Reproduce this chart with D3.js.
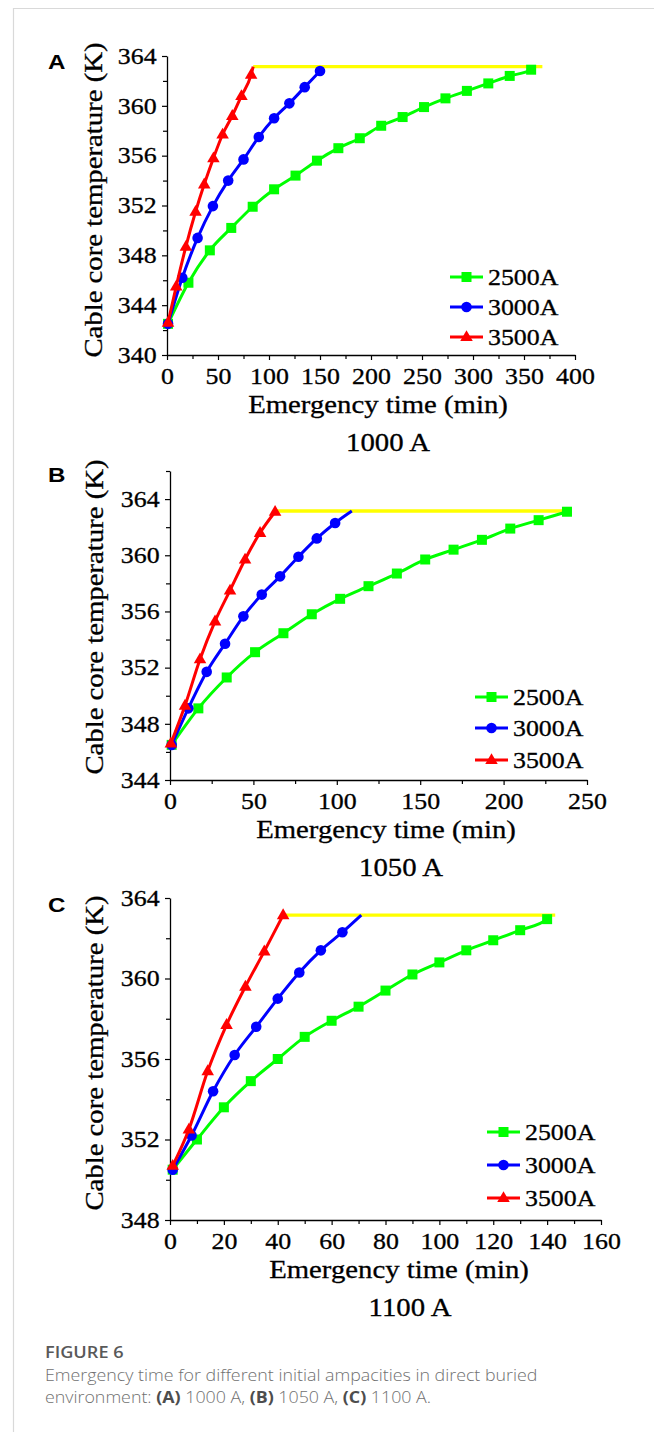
<!DOCTYPE html>
<html>
<head>
<meta charset="utf-8">
<script src="https://cdn.jsdelivr.net/npm/d3@7"></script>
<style>
  html, body { margin: 0; padding: 0; background: #fff; }
  svg { display: block; }
</style>
</head>
<body>
<script>
// ---------- data ----------
const seriesNames = ["2500A", "3000A", "3500A"];
const limitTemp = 363.15;

// Panel A : 1000 A
const tA_2500 = [1, 21, 42, 63, 84, 105, 126, 147, 168, 189, 210, 231, 252, 273, 294, 315, 336, 357];
const TA_2500 = [342.5, 345.8, 348.4, 350.2, 351.9, 353.3, 354.4, 355.6, 356.6, 357.4, 358.4, 359.1, 359.9, 360.6, 361.2, 361.8, 362.4, 362.9];
const tA_3000 = [1, 15, 30, 45, 60, 75, 90, 105, 120, 135, 150];
const TA_3000 = [342.5, 346.2, 349.4, 351.95, 354.0, 355.7, 357.5, 359.0, 360.2, 361.5, 362.8];
const tA_3500 = [1, 9, 18.5, 28, 36.5, 45.5, 54.5, 64, 73, 82.5];
const TA_3500 = [342.6, 345.5, 348.7, 351.5, 353.7, 355.8, 357.7, 359.2, 360.8, 362.5];
const endA = [359, 150, 84.5];          // time each curve reaches the limit
const yellowA = [84.5, 368];

// Panel B : 1050 A
const tB_2500 = [1, 17, 34, 51, 68, 85, 102, 119, 136, 153, 170, 187, 204, 221, 238];
const TB_2500 = [346.5, 349.1, 351.3, 353.1, 354.45, 355.8, 356.9, 357.8, 358.7, 359.7, 360.4, 361.1, 361.9, 362.5, 363.1];
const tB_3000 = [1, 11, 22, 33, 44, 55, 66, 77, 88, 99];
const TB_3000 = [346.5, 349.1, 351.7, 353.7, 355.65, 357.2, 358.5, 359.9, 361.2, 362.3];
const tB_3500 = [0.5, 9, 18, 27, 36, 45, 54, 63];
const TB_3500 = [346.6, 349.3, 352.6, 355.3, 357.5, 359.7, 361.6, 363.1];
const endB = [238, 109, 63];
const yellowB = [63, 240];

// Panel C : 1100 A
const tC_2500 = [1, 10, 20, 30, 40, 50, 60, 70, 80, 90, 100, 110, 120, 130, 140];
const TC_2500 = [350.5, 352.0, 353.6, 354.9, 356.0, 357.1, 357.9, 358.6, 359.4, 360.2, 360.8, 361.4, 361.9, 362.4, 362.95];
const tC_3000 = [1, 8, 16, 24, 32, 40, 48, 56, 64];
const TC_3000 = [350.5, 352.2, 354.4, 356.2, 357.6, 359.0, 360.3, 361.4, 362.3];
const tC_3500 = [1, 7, 14, 21, 28, 35, 42];
const TC_3500 = [350.7, 352.5, 355.4, 357.7, 359.6, 361.35, 363.15];
const endC = [141, 71, 42];
const yellowC = [42, 143];

// tick labels
const xTicksA = [0, 50, 100, 150, 200, 250, 300, 350, 400];
const yTicksA = [340, 344, 348, 352, 356, 360, 364];
const xTicksB = [0, 50, 100, 150, 200, 250];
const yTicksB = [344, 348, 352, 356, 360, 364];
const xTicksC = [0, 20, 40, 60, 80, 100, 120, 140, 160];
const yTicksC = [348, 352, 356, 360, 364];

const captionTitle = "FIGURE 6";
const captionLine1 = "Emergency time for different initial ampacities in direct buried";

// ---------- drawing ----------
const W = 654, H = 1432;
const colors = ["#00ff00", "#0000ff", "#ff0000"];
const yellow = "#ffff00";
const serif = "'Liberation Serif', 'Times New Roman', serif";
const SX = 1.15;   // horizontal stretch of the original figure's lettering

const svg = d3.select("body").append("svg").attr("width", W).attr("height", H);

// frame
svg.append("line").attr("x1", 13).attr("x2", W).attr("y1", 8.5).attr("y2", 8.5)
  .attr("stroke", "#d9d9d9").attr("stroke-width", 1.2);
svg.append("line").attr("x1", 13.5).attr("x2", 13.5).attr("y1", 8).attr("y2", H)
  .attr("stroke", "#d9d9d9").attr("stroke-width", 1.2);

function stretchedText(parent, x, y, txt, size, anchor, rot) {
  return parent.append("text")
    .attr("transform", `translate(${x},${y})` + (rot ? ` rotate(${rot})` : "") + ` scale(${SX},1)`)
    .attr("text-anchor", anchor || "start")
    .attr("font-family", serif).attr("font-size", size).attr("fill", "#000")
    .attr("stroke", "#000").attr("stroke-width", 0.3)
    .text(txt);
}

const panels = [
  { letter: "A", sub: "1000 A", x0: 167, x1: 575, yTop: 56, yBot: 355,
    xDom: [0, 400], yDom: [340, 364], xTicks: xTicksA, yTicks: yTicksA, xMinor: 25, yMinor: 2,
    t: [tA_2500, tA_3000, tA_3500], T: [TA_2500, TA_3000, TA_3500], end: endA, yellow: yellowA,
    letterPos: [48, 69], titleX: 378, subX: 388, yTitleY: 200, yTitleX: 102,
    legX: 450, legY: [277, 307, 337] },
  { letter: "B", sub: "1050 A", x0: 170, x1: 587, yTop: 471, yBot: 780,
    xDom: [0, 250], yDom: [344, 366], xTicks: xTicksB, yTicks: yTicksB, xMinor: 25, yMinor: 2,
    t: [tB_2500, tB_3000, tB_3500], T: [TB_2500, TB_3000, TB_3500], end: endB, yellow: yellowB,
    letterPos: [48, 482], titleX: 386, subX: 401, yTitleY: 617, yTitleX: 103,
    legX: 475, legY: [697, 728, 760] },
  { letter: "C", sub: "1100 A", x0: 170, x1: 601, yTop: 898, yBot: 1220,
    xDom: [0, 160], yDom: [348, 364], xTicks: xTicksC, yTicks: yTicksC, xMinor: 10, yMinor: 2,
    t: [tC_2500, tC_3000, tC_3500], T: [TC_2500, TC_3000, TC_3500], end: endC, yellow: yellowC,
    letterPos: [48, 912], titleX: 399, subX: 410, yTitleY: 1053, yTitleX: 103,
    legX: 487, legY: [1132, 1165, 1198] }
];

function marker(g, type, x, y, color) {
  if (type === 0) {
    g.append("rect").attr("x", x - 5).attr("y", y - 5).attr("width", 10).attr("height", 10).attr("fill", color);
  } else if (type === 1) {
    g.append("circle").attr("cx", x).attr("cy", y).attr("r", 5.3).attr("fill", color);
  } else {
    g.append("path").attr("d", d3.symbol().type(d3.symbolTriangle).size(68)())
      .attr("transform", `translate(${x},${y + 0.5})`).attr("fill", color);
  }
}

panels.forEach(p => {
  const g = svg.append("g");
  const x = d3.scaleLinear().domain(p.xDom).range([p.x0, p.x1]);
  const y = d3.scaleLinear().domain(p.yDom).range([p.yBot, p.yTop]);

  const xMinorVals = d3.range(p.xDom[0], p.xDom[1] + 1e-9, p.xMinor).filter(v => !p.xTicks.includes(v));
  const yMinorVals = d3.range(p.yDom[0], p.yDom[1] + 1e-9, p.yMinor).filter(v => !p.yTicks.includes(v));

  g.append("g").attr("transform", `translate(0,${p.yBot})`)
    .call(d3.axisBottom(x).tickValues(p.xTicks).tickSize(5).tickPadding(8).tickSizeOuter(0));
  g.append("g").attr("transform", `translate(0,${p.yBot})`)
    .call(d3.axisBottom(x).tickValues(xMinorVals).tickSize(4).tickFormat("").tickSizeOuter(0))
    .select(".domain").remove();
  g.append("g").attr("transform", `translate(${p.x0},0)`)
    .call(d3.axisLeft(y).tickValues(p.yTicks).tickSize(5).tickPadding(4).tickSizeOuter(0));
  g.append("g").attr("transform", `translate(${p.x0},0)`)
    .call(d3.axisLeft(y).tickValues(yMinorVals).tickSize(4).tickFormat("").tickSizeOuter(0))
    .select(".domain").remove();

  g.selectAll(".domain").attr("stroke", "#000").attr("stroke-width", 1.3);
  g.selectAll(".tick line").attr("stroke", "#000").attr("stroke-width", 1.2);
  g.selectAll(".tick text").attr("font-family", serif).attr("font-size", 22.5).attr("fill", "#000")
    .attr("stroke", "#000").attr("stroke-width", 0.3)
    .attr("transform", `scale(${SX},1)`);

  // yellow limit line
  g.append("line").attr("x1", x(p.yellow[0])).attr("x2", x(p.yellow[1]))
    .attr("y1", y(limitTemp)).attr("y2", y(limitTemp))
    .attr("stroke", yellow).attr("stroke-width", 3.4);

  // series
  const line = d3.line().x(d => x(d[0])).y(d => y(d[1])).curve(d3.curveMonotoneX);
  [0, 1, 2].forEach(i => {
    const pts = p.t[i].map((t, k) => [t, p.T[i][k]]);
    const linePts = pts.slice();
    if (p.end[i] > pts[pts.length - 1][0]) linePts.push([p.end[i], limitTemp]);
    g.append("path").datum(linePts).attr("d", line)
      .attr("fill", "none").attr("stroke", colors[i]).attr("stroke-width", 3)
      .attr("stroke-linejoin", "round");
    pts.forEach(d => marker(g, i, x(d[0]), y(d[1]), colors[i]));
  });

  // titles
  stretchedText(g, p.titleX, p.yBot + 58, "Emergency time (min)", 25, "middle");
  stretchedText(g, p.yTitleX, p.yTitleY, "Cable core temperature (K)", 25, "middle", -90);
  stretchedText(g, p.subX, p.yBot + 96, p.sub, 25, "middle");
  g.append("text").attr("transform", `translate(${p.letterPos[0]},${p.letterPos[1]}) scale(${SX},1)`)
    .attr("font-family", "'Liberation Sans', Arial, sans-serif").attr("font-weight", "bold")
    .attr("font-size", 21).text(p.letter);

  // legend
  seriesNames.forEach((name, i) => {
    const ly = p.legY[i];
    g.append("line").attr("x1", p.legX).attr("x2", p.legX + 33).attr("y1", ly).attr("y2", ly)
      .attr("stroke", colors[i]).attr("stroke-width", 3);
    marker(g, i, p.legX + 16.5, ly, colors[i]);
    stretchedText(g, p.legX + 38, ly + 7.5, name, 22.5, "start");
  });
});

// caption
const cap = svg.append("g").attr("font-family", "'Open Sans', 'Noto Sans', sans-serif");
cap.append("text").attr("transform", `translate(45,1358) scale(1.1,1)`).attr("font-size", 16.5).attr("font-weight", 600)
  .attr("fill", "#595959").text(captionTitle);
cap.append("text").attr("transform", `translate(45,1381) scale(1.1,1)`).attr("font-size", 16.2).attr("fill", "#707070")
  .attr("font-weight", 300).text(captionLine1);
const l2 = cap.append("text").attr("transform", `translate(45,1403) scale(1.1,1)`).attr("font-size", 16.2)
  .attr("fill", "#707070").attr("font-weight", 300);
l2.append("tspan").text("environment: ");
l2.append("tspan").attr("font-weight", 700).attr("fill", "#4d4d4d").text("(A)");
l2.append("tspan").text(" 1000 A, ");
l2.append("tspan").attr("font-weight", 700).attr("fill", "#4d4d4d").text("(B)");
l2.append("tspan").text(" 1050 A, ");
l2.append("tspan").attr("font-weight", 700).attr("fill", "#4d4d4d").text("(C)");
l2.append("tspan").text(" 1100 A.");
</script>
</body>
</html>
